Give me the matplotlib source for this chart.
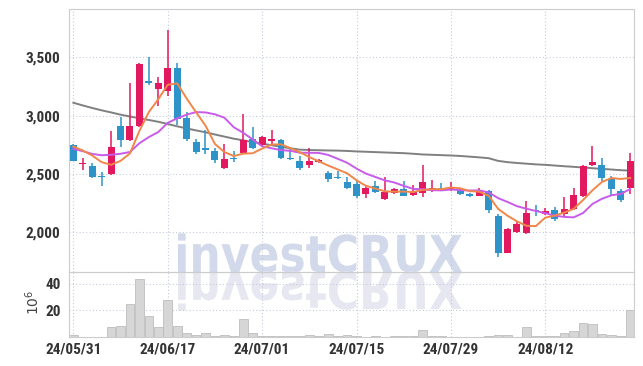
import numpy as np
import pandas as pd
import matplotlib
matplotlib.use('Agg')
import matplotlib.pyplot as plt
from matplotlib.textpath import TextPath
from matplotlib.patches import PathPatch
from matplotlib.font_manager import FontProperties
from matplotlib.transforms import Affine2D, IdentityTransform

# trading days (KRX, 6/6 and 8/15 closed)
dates = pd.bdate_range('2024-05-31', '2024-08-26', freq='C',
                       holidays=['2024-06-06', '2024-08-15'])

opens = [2750, 2582, 2572, 2480, 2500, 2914, 2787, 2908, 3299, 3227,
         3210, 3405, 2983, 2773, 2715, 2698, 2552, 2630, 2681, 2796,
         2745, 2782, 2793, 2632, 2607, 2580, 2603, 2509, 2468, 2429,
         2414, 2331, 2394, 2285, 2336, 2371, 2322, 2333, 2365, 2373,
         2371, 2371, 2328, 2313, 2351, 2141, 1825, 2003, 1991, 2186,
         2155, 2190, 2155, 2198, 2308, 2580, 2578, 2457, 2356, 2377]
highs = [2755, 2640, 2592, 2515, 2865, 2990, 3276, 3454, 3500, 3334,
         3735, 3450, 3030, 2800, 2875, 2722, 2760, 2700, 3010, 2903,
         2825, 2874, 2800, 2715, 2658, 2722, 2625, 2526, 2526, 2470,
         2442, 2400, 2440, 2470, 2383, 2442, 2408, 2578, 2451, 2420,
         2430, 2378, 2340, 2380, 2365, 2155, 2040, 2098, 2270, 2233,
         2210, 2213, 2300, 2377, 2575, 2740, 2635, 2486, 2371, 2681]
lows = [2610, 2530, 2466, 2400, 2492, 2730, 2785, 2900, 3260, 3080,
        3165, 2915, 2780, 2672, 2670, 2595, 2543, 2600, 2672, 2710,
        2740, 2760, 2625, 2622, 2530, 2549, 2596, 2430, 2455, 2370,
        2298, 2290, 2335, 2278, 2325, 2307, 2313, 2305, 2342, 2352,
        2356, 2318, 2302, 2307, 2164, 1790, 1820, 1998, 1983, 2136,
        2150, 2098, 2136, 2190, 2300, 2566, 2442, 2313, 2256, 2328]
closes = [2615, 2597, 2478, 2470, 2730, 2787, 2914, 3442, 3276, 3282,
          3405, 2974, 2796, 2687, 2708, 2618, 2629, 2624, 2793, 2722,
          2817, 2802, 2636, 2627, 2549, 2610, 2618, 2457, 2463, 2380,
          2313, 2377, 2342, 2342, 2368, 2315, 2356, 2434, 2377, 2369,
          2382, 2325, 2310, 2356, 2193, 1820, 2032, 2069, 2164, 2182,
          2181, 2118, 2198, 2319, 2566, 2601, 2469, 2371, 2278, 2609]
# volume, millions of shares
volume = [1.5, 0.3, 0.3, 0.3, 7.7, 8.1, 25.0, 43.5, 15.6, 7.4,
          28.1, 8.1, 2.7, 1.5, 2.7, 0.7, 1.2, 0.5, 13.8, 2.7,
          1.0, 0.4, 0.4, 0.4, 0.6, 1.2, 0.6, 2.2, 0.8, 1.5,
          0.5, 0.3, 0.4, 0.3, 0.5, 0.4, 0.6, 5.2, 0.8, 0.4,
          0.3, 0.3, 0.2, 0.3, 0.7, 1.5, 1.5, 0.3, 7.2, 0.5,
          0.5, 0.5, 2.7, 4.2, 10.9, 10.1, 2.2, 1.5, 0.7, 20.5]

ma5 = [2735, 2701, 2658, 2601, 2578, 2612, 2676, 2869, 3030, 3140,
       3264, 3276, 3147, 3029, 2914, 2757, 2688, 2653, 2674, 2677,
       2717, 2752, 2754, 2721, 2686, 2645, 2608, 2572, 2539, 2506,
       2446, 2398, 2375, 2351, 2348, 2349, 2345, 2363, 2370, 2370,
       2384, 2377, 2353, 2348, 2313, 2201, 2142, 2094, 2056, 2053,
       2126, 2143, 2169, 2200, 2276, 2360, 2431, 2465, 2457, 2466]
ma10 = [2716, 2695, 2672, 2660, 2664, 2673, 2688, 2763, 2816, 2859,
        2938, 2976, 3008, 3030, 3027, 3011, 2982, 2900, 2852, 2796,
        2737, 2720, 2704, 2698, 2682, 2681, 2680, 2663, 2630, 2596,
        2546, 2503, 2474, 2445, 2427, 2398, 2372, 2369, 2361, 2359,
        2367, 2361, 2358, 2359, 2342, 2293, 2260, 2224, 2202, 2183,
        2164, 2143, 2132, 2128, 2165, 2243, 2287, 2317, 2329, 2371]
ma60 = [3110, 3087, 3065, 3045, 3027, 3008, 2992, 2977, 2962, 2947,
        2928, 2908, 2890, 2873, 2857, 2838, 2820, 2802, 2788, 2773,
        2759, 2746, 2733, 2720, 2708, 2705, 2703, 2701, 2700, 2697,
        2693, 2690, 2687, 2684, 2681, 2678, 2673, 2667, 2664, 2661,
        2658, 2654, 2648, 2642, 2635, 2612, 2601, 2594, 2588, 2582,
        2578, 2572, 2566, 2561, 2555, 2549, 2543, 2538, 2532, 2529]

UP, DOWN = '#E2195F', '#2E93C8'
GRID = '#C4CADF'
lab_font = ['DejaVu Sans Condensed', 'Roboto Condensed', 'Roboto', 'DejaVu Sans']

fig = plt.figure(figsize=(6.43, 3.66), dpi=100)
fig.patch.set_facecolor('white')

# watermark + reflection, behind the axes
fp = FontProperties(family='DejaVu Sans', weight='bold')
tp = TextPath((0, 0), 'investCRUX', size=100, prop=fp)
ext = tp.get_extents()
cap = TextPath((0, 0), 'C', size=100, prop=fp).get_extents()
sx = 284 / ext.width
sy = 38.5 / cap.height
up = Affine2D().translate(-ext.x0, 0).scale(sx, sy).translate(178, 94)
dn = Affine2D().translate(-ext.x0, 0).scale(sx, -sy).translate(178, 94)
fig.add_artist(PathPatch(up.transform_path(tp), facecolor='#D2D9EA', lw=0,
                         transform=IdentityTransform(), zorder=-5))
fig.add_artist(PathPatch(dn.transform_path(tp), facecolor='#E6E7F0', lw=0,
                         transform=IdentityTransform(), zorder=-5))

ax = fig.add_axes([69/643, 1-272/366, 565/643, 263/366])
axv = fig.add_axes([69/643, 1-337/366, 565/643, 65/366], sharex=ax)
for a in (ax, axv):
    a.set_facecolor('none')
    for s in a.spines.values():
        s.set_color('#CCCCCC')
    a.grid(True, color=GRID, linestyle=(0, (1, 2)), lw=0.8)
    a.set_axisbelow(True)
    a.tick_params(length=0, labelsize=11, labelcolor='#333333')

x = np.arange(len(closes))
for i in x:
    o, h, l, c = opens[i], highs[i], lows[i], closes[i]
    col = UP if c >= o else DOWN
    ax.vlines(i, l, h, color=col, lw=1.1, zorder=3)
    ax.bar(i, max(abs(c - o), 10), bottom=min(o, c), width=0.74,
           color=col, zorder=4)

ax.plot(x, ma60, color='#808080', lw=1.4, zorder=2)
ax.plot(x, ma10, color='#C95BEB', lw=1.4, zorder=5)
ax.plot(x, ma5, color='#F0874A', lw=1.4, zorder=6)

ax.set_ylim(1660, 3913)
ax.set_yticks([2000, 2500, 3000, 3500])
ax.set_yticklabels(['2,000', '2,500', '3,000', '3,500'],
                   family=lab_font, weight='bold')
ax.set_xlim(-0.46, 59.4)
ax.tick_params(labelbottom=False)

axv.bar(x, volume, width=0.92, color='#D6D6D6', edgecolor='#BDBDBD', lw=0.6)
axv.set_ylim(0, 49)
axv.set_yticks([20, 40])
axv.set_yticklabels(['20', '40'], family=lab_font, weight='bold')

ticks = x[::10]
axv.set_xticks(ticks)
axv.set_xticklabels([dates[i].strftime('%y/%m/%d') for i in ticks],
                    family=lab_font, weight='bold')
axv.tick_params(axis='x', pad=4)
axv.tick_params(axis='y', pad=6)
ax.tick_params(axis='y', pad=6)

fig.text(33/643, 1-302/366, r'$10^6$', rotation=90, ha='center',
         va='center', fontsize=10, color='#444444')

fig.savefig('out.png', dpi=100)
